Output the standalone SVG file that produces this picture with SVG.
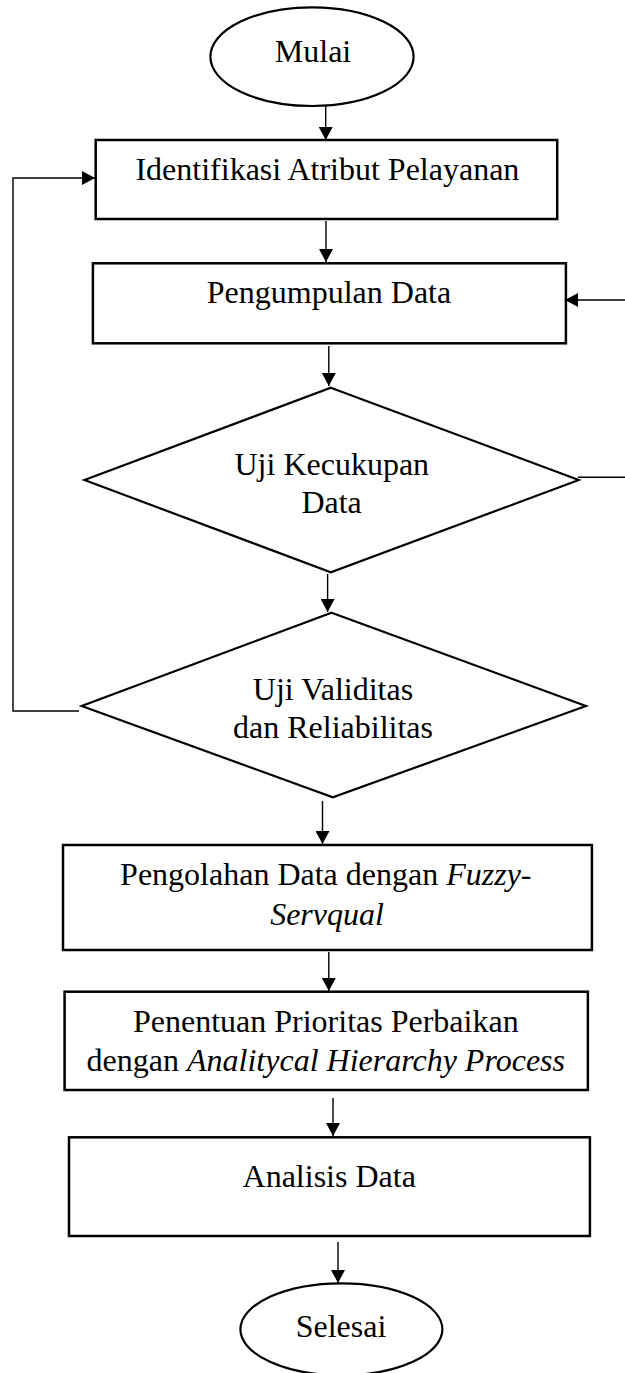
<svg xmlns="http://www.w3.org/2000/svg" width="625" height="1373" viewBox="0 0 625 1373">
<style>
.shape{fill:#fff;stroke:#000;stroke-width:2.5}
.dia{fill:#fff;stroke:#000;stroke-width:2.2}
.conn{fill:none;stroke:#000;stroke-width:1.4}
text{font-family:"Liberation Serif","Times New Roman",serif;font-size:32px;fill:#000;text-anchor:middle}
.it{font-style:italic}
</style>
<defs>
<marker id="ah" markerUnits="userSpaceOnUse" markerWidth="14" markerHeight="14" refX="13" refY="7" orient="auto">
<path d="M0,0 L13,7 L0,14 z" fill="#000"/>
</marker>
</defs>
<rect width="625" height="1373" fill="#fff"/>
<g id="connectors">
<path class="conn" d="M325.7,105 V140" marker-end="url(#ah)"/>
<path class="conn" d="M326,221 V262" marker-end="url(#ah)"/>
<path class="conn" d="M328.8,346 V386" marker-end="url(#ah)"/>
<path class="conn" d="M327.6,574 V612" marker-end="url(#ah)"/>
<path class="conn" d="M322.5,801 V844" marker-end="url(#ah)"/>
<path class="conn" d="M328.8,952 V991" marker-end="url(#ah)"/>
<path class="conn" d="M333,1098 V1136" marker-end="url(#ah)"/>
<path class="conn" d="M338,1242 V1283" marker-end="url(#ah)"/>
<path class="conn" d="M578,477.3 H628 V300 H565" marker-end="url(#ah)"/>
<path class="conn" d="M79,711 H13 V178 H95" marker-end="url(#ah)"/>
</g>
<g id="mulai">
<ellipse class="dia" cx="312" cy="56.7" rx="101.6" ry="49.3"/>
<text x="313" y="62.3">Mulai</text>
</g>
<g id="identifikasi">
<rect class="shape" x="95.7" y="140" width="461.5" height="79"/>
<text x="327.4" y="180">Identifikasi Atribut Pelayanan</text>
</g>
<g id="pengumpulan">
<rect class="shape" x="92.9" y="263.3" width="473" height="80"/>
<text x="329" y="302.7">Pengumpulan Data</text>
</g>
<g id="uji-kecukupan">
<polygon class="dia" points="330.8,387.7 578.7,480 330.8,572.3 84.5,480"/>
<text x="331.8" y="475">Uji Kecukupan</text>
<text x="331.6" y="513.3">Data</text>
</g>
<g id="uji-validitas">
<polygon class="dia" points="331.6,612.7 585.9,706 332.8,797.3 81.7,706"/>
<text x="333" y="700">Uji Validitas</text>
<text x="333" y="738.3">dan Reliabilitas</text>
</g>
<g id="pengolahan">
<rect class="shape" x="63" y="845" width="528.9" height="105"/>
<text x="325.8" y="885">Pengolahan Data dengan <tspan class="it">Fuzzy</tspan>-</text>
<text x="327" y="925" class="it">Servqual</text>
</g>
<g id="penentuan">
<rect class="shape" x="64.6" y="991.7" width="523.3" height="98.3"/>
<text x="325.8" y="1031.7">Penentuan Prioritas Perbaikan</text>
<text x="325.8" y="1070.7">dengan <tspan class="it">Analitycal Hierarchy Process</tspan></text>
</g>
<g id="analisis">
<rect class="shape" x="69" y="1137.3" width="520.9" height="98.7"/>
<text x="329.2" y="1187.3">Analisis Data</text>
</g>
<g id="selesai">
<ellipse class="dia" cx="341.4" cy="1329.3" rx="101" ry="46"/>
<text x="341" y="1337.3">Selesai</text>
</g>
</svg>
